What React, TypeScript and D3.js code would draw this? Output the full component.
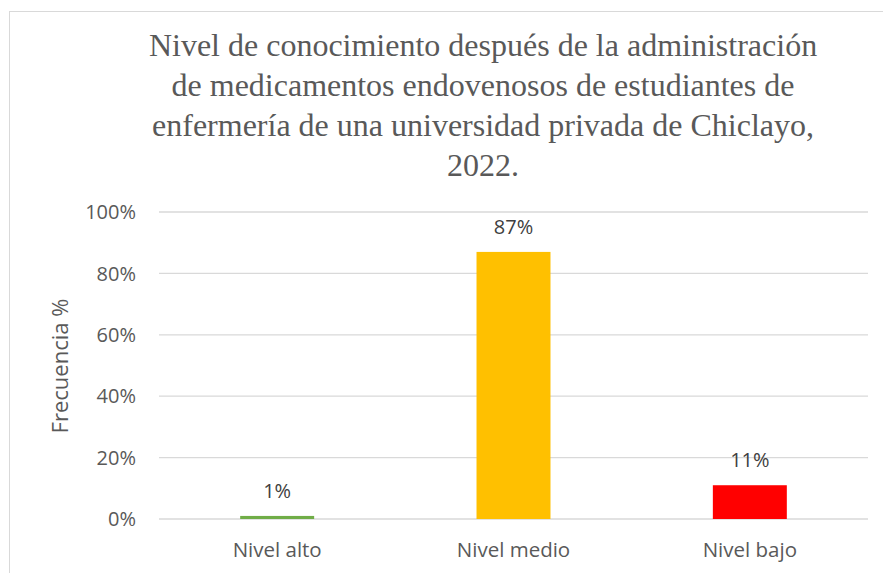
import React from "react";
import * as d3 from "d3";

const categories = ["Nivel alto", "Nivel medio", "Nivel bajo"];
const values = [0.01, 0.87, 0.11];
const barColors = ["#70ad47", "#ffc000", "#ff0000"];
const yTicks = [0, 0.2, 0.4, 0.6, 0.8, 1.0];
const titleLines = [
  "Nivel de conocimiento después de la administración",
  "de medicamentos endovenosos de estudiantes de",
  "enfermería de una universidad privada de Chiclayo,",
  "2022.",
];

const W = 883;
const H = 573;
const plot = { left: 159, right: 868, top: 212, bottom: 519 };
const sans = "'Open Sans', sans-serif";

export default function App() {
  const x = d3
    .scaleBand<string>()
    .domain(categories)
    .range([plot.left, plot.right])
    .paddingInner(0.687)
    .paddingOuter(0.3435);
  const y = d3.scaleLinear().domain([0, 1]).range([plot.bottom, plot.top]);
  const fmt = d3.format(".0%");

  return (
    <svg
      width={W}
      height={H}
      style={{ position: "absolute", left: 0, top: 0, background: "#fff" }}
    >
      <rect x={9.5} y={11.5} width={890} height={600} fill="#fff" stroke="#d9d9d9" />

      <g fill="#595959" fontFamily="'Liberation Serif', 'Times New Roman', serif" fontSize={32} textAnchor="middle">
        {titleLines.map((t, i) => (
          <text key={i} x={483} y={56 + i * 40}>
            {t}
          </text>
        ))}
      </g>

      {yTicks.map((t) => (
        <g key={t}>
          <line x1={plot.left} x2={plot.right} y1={y(t)} y2={y(t)} stroke="#d9d9d9" strokeWidth={1.3} />
          <text
            x={136}
            y={y(t)}
            dy="0.36em"
            textAnchor="end"
            fontFamily={sans}
            fontSize={20}
            fill="#595959"
          >
            {fmt(t)}
          </text>
        </g>
      ))}

      {categories.map((c, i) => (
        <g key={c}>
          <rect
            x={x(c)}
            y={y(values[i])}
            width={x.bandwidth()}
            height={plot.bottom - y(values[i])}
            fill={barColors[i]}
          />
          <text
            x={(x(c) ?? 0) + x.bandwidth() / 2}
            y={y(values[i]) - 18}
            textAnchor="middle"
            fontFamily={sans}
            fontSize={20}
            fill="#404040"
          >
            {fmt(values[i])}
          </text>
          <text
            x={(x(c) ?? 0) + x.bandwidth() / 2}
            y={557}
            textAnchor="middle"
            fontFamily={sans}
            fontSize={20.5}
            fill="#595959"
          >
            {c}
          </text>
        </g>
      ))}

      <text
        transform={`translate(68, 366) rotate(-90)`}
        textAnchor="middle"
        fontFamily={sans}
        fontSize={22}
        fill="#595959"
      >
        Frecuencia %
      </text>
    </svg>
  );
}
